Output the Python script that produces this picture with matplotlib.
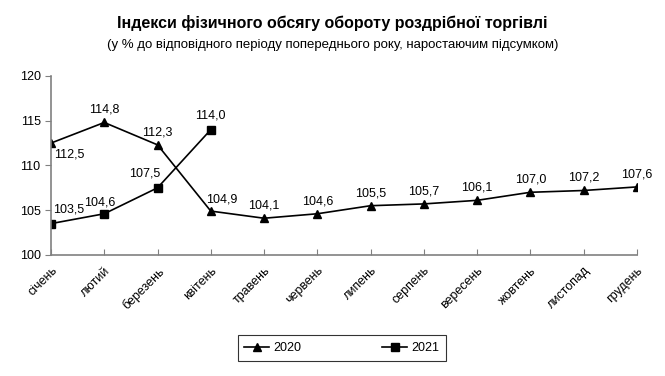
import matplotlib.pyplot as plt

months = ["січень", "лютий", "березень", "квітень", "травень", "червень",
          "липень", "серпень", "вересень", "жовтень", "листопад", "грудень"]
idx_2020 = [112.5, 114.8, 112.3, 104.9, 104.1, 104.6, 105.5, 105.7, 106.1, 107.0, 107.2, 107.6]
idx_2021 = [103.5, 104.6, 107.5, 114.0]

plt.rcParams['font.family'] = ['Liberation Sans Narrow', 'Liberation Sans', 'DejaVu Sans']

fig = plt.figure(figsize=(6.65, 3.76), dpi=100)
ax = fig.add_axes([0.0767, 0.322, 0.881, 0.476])

x20 = list(range(len(idx_2020)))
x21 = list(range(len(idx_2021)))
ax.plot(x20, idx_2020, color='black', lw=1.2, marker='^', ms=6, label='2020')
ax.plot(x21, idx_2021, color='black', lw=1.2, marker='s', ms=6, label='2021')

def fmt(v):
    return f"{v:.1f}".replace('.', ',')

# label offsets (points) relative to each data point
off_2020 = [(13, -8), (0, 9), (0, 9), (8, 8)] + [(0, 9)] * 8
off_2021 = [(13, 10), (-3, 8), (-9, 10), (0, 10)]

for i, v in enumerate(idx_2020):
    ax.annotate(fmt(v), (i, v), xytext=off_2020[i], textcoords='offset points',
                ha='center', va='center', fontsize=9)
for i, v in enumerate(idx_2021):
    ax.annotate(fmt(v), (i, v), xytext=off_2021[i], textcoords='offset points',
                ha='center', va='center', fontsize=9)

ax.set_xlim(0, len(months) - 1)
ax.set_ylim(100, 120)
ax.set_yticks([100, 105, 110, 115, 120])
ax.set_xticks(x20)
ax.set_xticklabels(months, rotation=45, ha='right', rotation_mode='anchor', fontsize=9)
ax.tick_params(axis='x', direction='in', length=4, color='#808080', pad=7)
ax.tick_params(axis='y', direction='out', length=4, color='#808080', labelsize=9)

for s in ['top', 'right']:
    ax.spines[s].set_visible(False)
for s in ['left', 'bottom']:
    ax.spines[s].set_color('#808080')
    ax.spines[s].set_linewidth(1.2)

fig.text(0.5, 0.94, "Індекси фізичного обсягу обороту роздрібної торгівлі",
         ha='center', va='center', fontsize=11.5, fontweight='bold')
fig.text(0.5, 0.88, "(у % до відповідного періоду попереднього року, наростаючим підсумком)",
         ha='center', va='center', fontsize=9.5)

leg = fig.legend(loc='center', bbox_to_anchor=(0.514, 0.074), ncol=2, frameon=True,
                 fancybox=False, edgecolor='black', fontsize=9, columnspacing=6.5,
                 handlelength=2.0, handletextpad=0.3, borderpad=0.55,
                 borderaxespad=0)
leg.get_frame().set_linewidth(0.8)

fig.savefig('out.png', dpi=100)
